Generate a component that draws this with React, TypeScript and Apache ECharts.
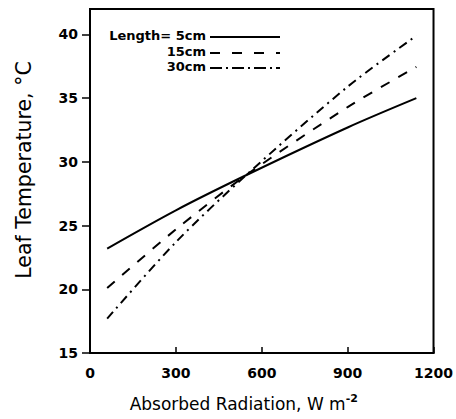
import React, { useEffect, useRef } from "react";
import * as echarts from "echarts";

const radiation = [60, 300, 545, 900, 1140];
const temp5cm = [23.2, 26.2, 28.95, 32.7, 35.0];
const temp15cm = [20.1, 24.7, 28.95, 34.3, 37.45];
const temp30cm = [17.7, 23.7, 28.95, 35.9, 39.9];
const seriesNames = ["5cm", "15cm", "30cm"];
const xTicks = [0, 300, 600, 900, 1200];
const yTicks = [15, 20, 25, 30, 35, 40];

const FONT = "DejaVu Sans";
const dashPlot = [null, [10, 10], [9, 5, 2, 5]] as any[];
const dashLegend = [null, [10, 12], [12, 4, 2, 4]] as any[];

export default function App() {
  const ref = useRef<HTMLDivElement>(null);
  useEffect(() => {
    if (!ref.current) return;
    const chart = echarts.init(ref.current, null, { renderer: "svg" });
    const allData = [temp5cm, temp15cm, temp30cm];
    const series = allData.map((vals, i) => ({
      name: seriesNames[i],
      type: "line",
      data: radiation.map((x, j) => [x, vals[j]]),
      showSymbol: false,
      smooth: 0.3,
      lineStyle: {
        color: "#000",
        width: 2,
        type: dashPlot[i] || "solid",
      },
    }));

    const legendGraphics: any[] = [];
    const rowsY = [35, 51, 66];
    seriesNames.forEach((n, i) => {
      legendGraphics.push({
        type: "text",
        x: 206,
        y: rowsY[i],
        style: {
          text: i === 0 ? "Length= " + n : n,
          font: `bold 13px "${FONT}"`,
          fill: "#000",
          align: "right",
          verticalAlign: "middle",
        },
      });
      legendGraphics.push({
        type: "line",
        shape: { x1: 210, y1: rowsY[i] + 2, x2: 280, y2: rowsY[i] + 2 },
        style: {
          stroke: "#000",
          lineWidth: 2,
          lineDash: dashLegend[i] || null,
        },
      });
    });

    chart.setOption({
      animation: false,
      backgroundColor: "#fff",
      textStyle: { fontFamily: FONT },
      grid: {
        left: 90,
        right: 20,
        top: 9,
        bottom: 66,
        show: true,
        borderColor: "#000",
        borderWidth: 2,
      },
      xAxis: {
        type: "value",
        min: 0,
        max: 1200,
        interval: 300,
        name: "{a|Absorbed Radiation, W m}{s|-2}",
        nameLocation: "middle",
        nameGap: 40,
        nameTextStyle: {
          padding: [0, 36, 0, 0],
          rich: {
            a: { fontSize: 17, fontFamily: FONT, color: "#000", lineHeight: 22 },
            s: {
              fontSize: 11,
              fontWeight: "bold",
              fontFamily: FONT,
              color: "#000",
              verticalAlign: "top",
              lineHeight: 22,
            },
          },
        },
        axisLine: { lineStyle: { color: "#000", width: 2 } },
        axisTick: {
          inside: true,
          length: 6,
          lineStyle: { color: "#000", width: 1.5 },
          customValues: xTicks,
        },
        axisLabel: {
          customValues: xTicks,
          formatter: (v: number) => String(v),
          color: "#000",
          fontSize: 14,
          fontWeight: "bold",
          fontFamily: FONT,
          margin: 13,
        },
        splitLine: { show: false },
      },
      yAxis: {
        type: "value",
        min: 15,
        max: 42,
        interval: 5,
        name: "Leaf Temperature, °C",
        nameLocation: "middle",
        nameGap: 56,
        nameTextStyle: {
          fontSize: 20.5,
          fontFamily: FONT,
          color: "#000",
          padding: [0, 0, 0, 22],
        },
        axisLine: { lineStyle: { color: "#000", width: 2 } },
        axisTick: {
          inside: false,
          length: 8,
          lineStyle: { color: "#000", width: 1.5 },
          customValues: yTicks,
        },
        axisLabel: {
          customValues: yTicks,
          formatter: (v: number) => String(v),
          color: "#000",
          fontSize: 14,
          fontWeight: "bold",
          fontFamily: FONT,
          margin: 12,
        },
        splitLine: { show: false },
      },
      graphic: legendGraphics,
      series,
    });
    return () => chart.dispose();
  }, []);
  return (
    <div
      ref={ref}
      style={{ position: "fixed", left: 0, top: 0, width: 456, height: 419 }}
    />
  );
}
